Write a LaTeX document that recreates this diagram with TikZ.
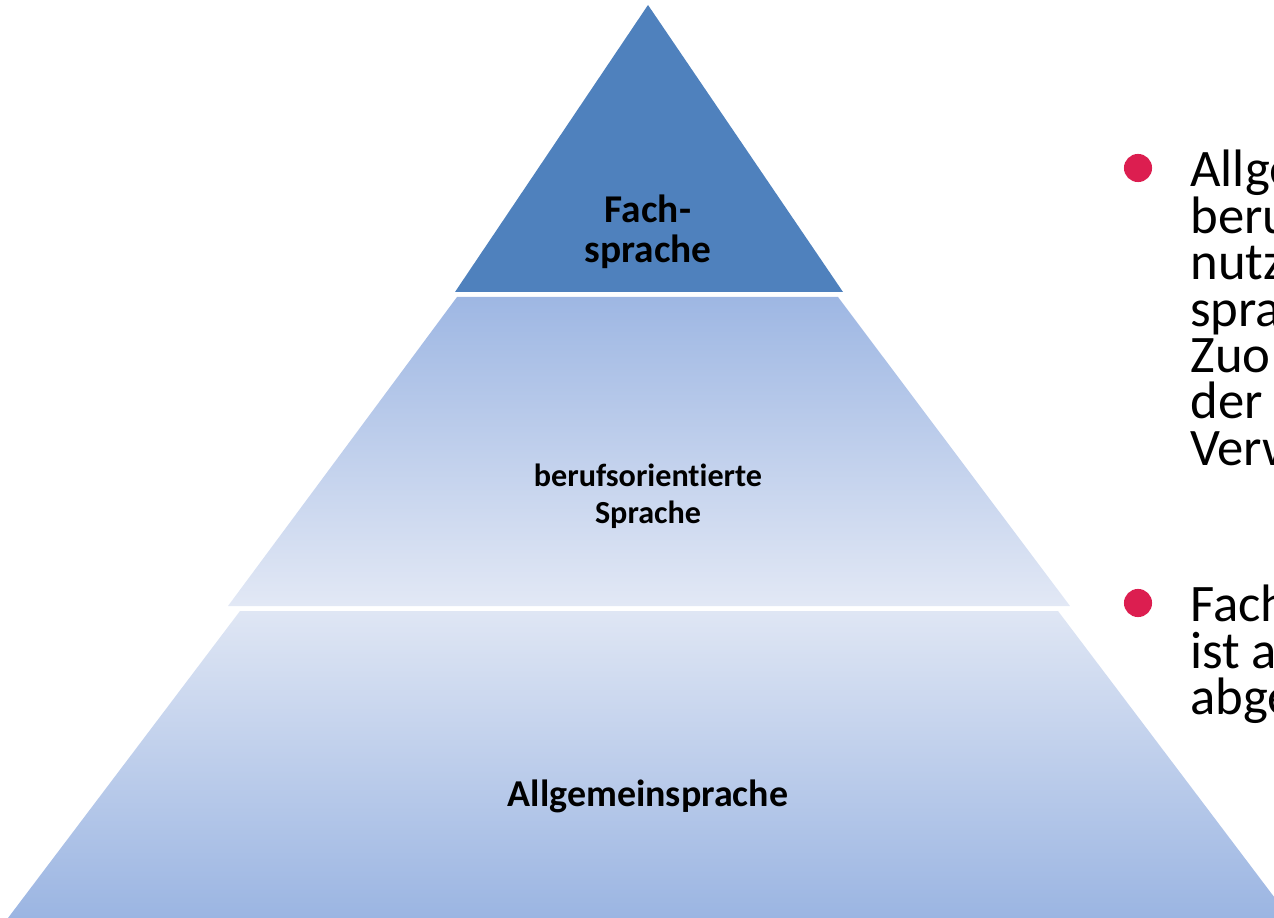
\documentclass[tikz,border=0pt]{standalone}
\usepackage{fontspec}
\setmainfont{Carlito}[Ligatures=NoCommon]
\usepackage{xcolor}
\definecolor{topblue}{RGB}{79,129,189}
\definecolor{midtop}{RGB}{158,183,227}
\definecolor{midbot}{RGB}{226,232,245}
\definecolor{lowtop}{RGB}{223,230,244}
\definecolor{lowbot}{RGB}{155,181,226}
\definecolor{bulletred}{RGB}{220,30,80}
\tikzstyle{layer} = [draw=none]
\tikzstyle{label} = [font=\bfseries, align=center, text=black]
\tikzstyle{bullet} = [circle, fill=bulletred, inner sep=0pt, minimum size=16]
\tikzstyle{btext} = [anchor=north west, inner sep=0pt, align=left, font=\fontsize{30}{26.4}\selectfont]

\begin{document}
\begin{tikzpicture}[x=0.02cm, y=-0.02cm]
        \useasboundingbox (0,0) rectangle (1274,918);
        \clip (0,0) rectangle (1274,918);

        % pyramid layers
        \fill[layer, topblue] (648,5) -- (843,292) -- (455,292) -- cycle;
        \shade[layer, top color=midtop, bottom color=midbot] (457,297) -- (838,297) -- (1070,606) -- (228,606) -- cycle;
        \shade[layer, top color=lowtop, bottom color=lowbot] (240,611) -- (1058,611) -- (1290,918) -- (8,918) -- cycle;

        \node[label, font=\bfseries\fontsize{22.4}{22.8}\selectfont] (fach) at (648,232) {Fach-\\sprache};
        \node[label, font=\bfseries\fontsize{18.3}{21}\selectfont] (beruf) at (648,496) {berufsorientierte\\Sprache};
        \node[label, font=\bfseries\fontsize{21.6}{24}\selectfont] (allg) at (648,796) {Allgemeinsprache};

        % bullet list on the right
        \node[bullet] (b1) at (1138,168) {};
        \node[btext] (t1) at (1190,150) {Allge\\beru\\nutz\\spra\\Zuo\\der\\Verw};
        \node[bullet] (b2) at (1138,603) {};
        \node[btext] (t2) at (1190,585) {Fach\\ist a\\abge};
\end{tikzpicture}
\end{document}
